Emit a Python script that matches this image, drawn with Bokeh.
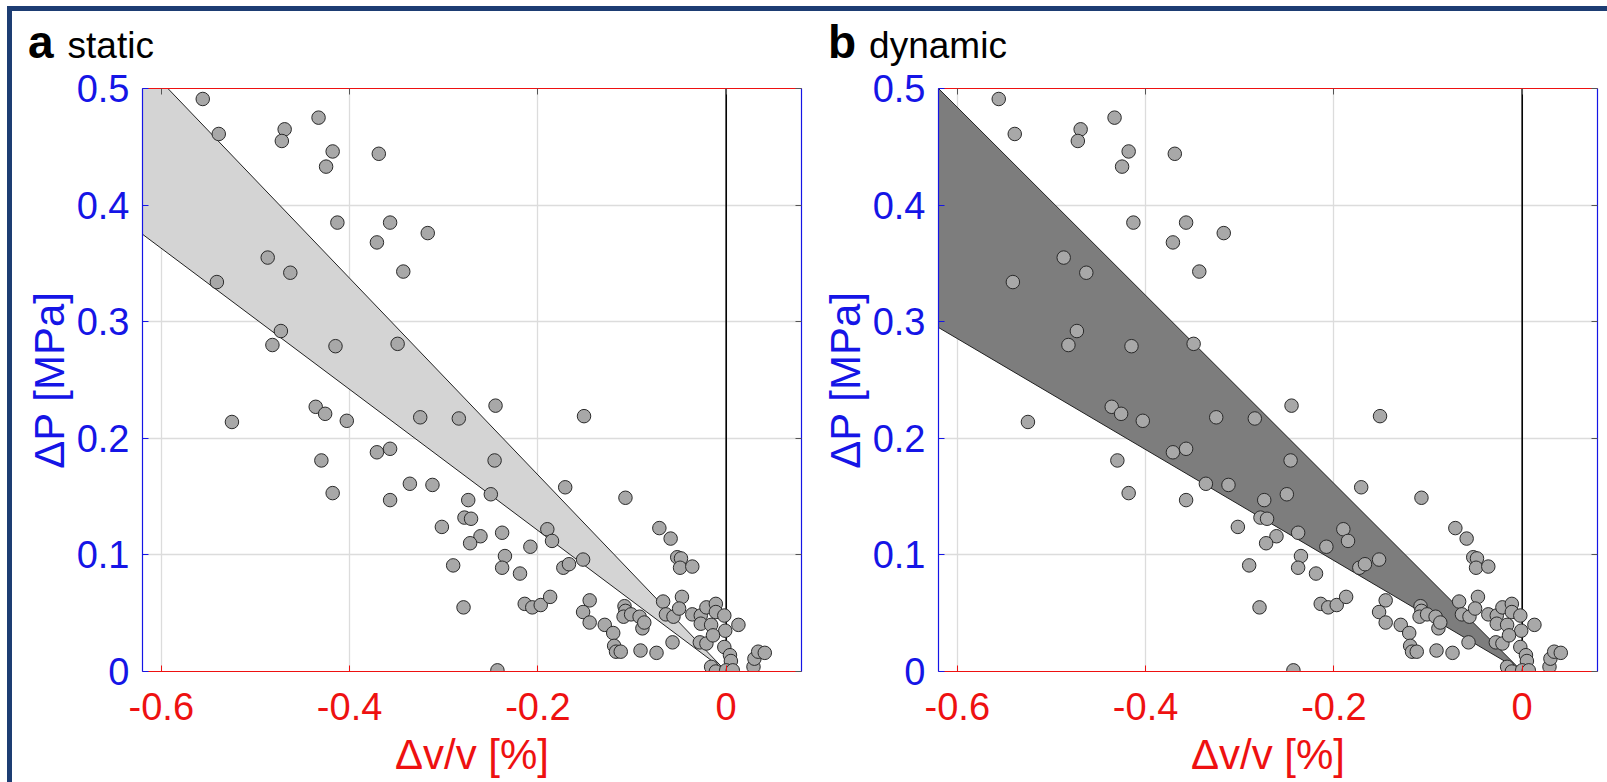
from bokeh.plotting import figure
from bokeh.layouts import row, column
from bokeh.models import FixedTicker, LinearAxis, Range1d, Span, Div, Spacer
from bokeh.embed import file_html
from bokeh.resources import INLINE

# ---- data ----
dv = [-0.556, -0.539, -0.469, -0.472, -0.433, -0.418, -0.425, -0.369, -0.413, -0.357,
      -0.317, -0.371, -0.487, -0.463, -0.343, -0.541, -0.473, -0.482, -0.415, -0.349,
      -0.525, -0.436, -0.426, -0.403, -0.325, -0.371, -0.357, -0.430, -0.418, -0.357,
      -0.336, -0.312, -0.302, -0.290, -0.245, -0.284, -0.151, -0.246, -0.250, -0.171,
      -0.107, -0.274, -0.278, -0.271, -0.261, -0.272, -0.238, -0.208, -0.235, -0.238,
      -0.219, -0.190, -0.185, -0.173, -0.167, -0.152, -0.071, -0.059, -0.052, -0.048,
      -0.049, -0.036, -0.279, -0.214, -0.206, -0.197, -0.187, -0.145, -0.152, -0.145,
      -0.129, -0.120, -0.119, -0.117, -0.112, -0.108, -0.107, -0.109, -0.101, -0.092,
      -0.089, -0.091, -0.074, -0.087, -0.067, -0.064, -0.056, -0.057, -0.047, -0.050,
      -0.036, -0.027, -0.021, -0.011, -0.011, -0.027, -0.016, -0.002, -0.001, 0.013,
      -0.028, -0.021, -0.014, -0.002, 0.004, 0.005, -0.016, -0.011, 0.000, 0.007,
      -0.243, 0.029, 0.030, 0.034, 0.041]
dp = [0.491, 0.461, 0.465, 0.455, 0.475, 0.446, 0.433, 0.444, 0.385, 0.385,
      0.376, 0.368, 0.355, 0.342, 0.343, 0.334, 0.292, 0.280, 0.279, 0.281,
      0.214, 0.227, 0.221, 0.215, 0.218, 0.188, 0.191, 0.181, 0.153, 0.147,
      0.161, 0.160, 0.124, 0.091, 0.228, 0.217, 0.219, 0.181, 0.152, 0.158,
      0.149, 0.147, 0.132, 0.131, 0.116, 0.110, 0.119, 0.107, 0.099, 0.089,
      0.084, 0.122, 0.112, 0.089, 0.092, 0.096, 0.123, 0.114, 0.098, 0.097,
      0.089, 0.090, 0.055, 0.058, 0.055, 0.057, 0.064, 0.061, 0.051, 0.042,
      0.040, 0.033, 0.022, 0.017, 0.017, 0.056, 0.052, 0.047, 0.049, 0.047,
      0.037, 0.018, 0.016, 0.042, 0.060, 0.049, 0.047, 0.025, 0.064, 0.054,
      0.049, 0.048, 0.055, 0.058, 0.051, 0.041, 0.040, 0.048, 0.035, 0.040,
      0.025, 0.024, 0.031, 0.021, 0.014, 0.009, 0.004, 0.000, 0.001, 0.001,
      0.001, 0.004, 0.011, 0.017, 0.016]

x_ticks = [-0.6, -0.4, -0.2, 0.0]
x_tick_labels = ["-0.6", "-0.4", "-0.2", "0"]
y_ticks = [0.0, 0.1, 0.2, 0.3, 0.4, 0.5]
y_tick_labels = ["0", "0.1", "0.2", "0.3", "0.4", "0.5"]

band_a_x = [-0.62, -0.593, 0.0, -0.62]
band_a_y = [0.5, 0.5, 0.0, 0.375]
band_b_x = [-0.62, 0.0, -0.62]
band_b_y = [0.5, 0.0, 0.295]

panel_letters = ["a", "b"]
panel_words = ["static", "dynamic"]

FONT = "Liberation Sans"
RED = "#ee1111"
BLUE = "#1515e6"
BORDER = "#1d3d73"
NOM = (0, 0, 0, 0)


def make_panel(bx, by, band_color, width, mb_left, mb_right):
    p = figure(width=width, height=716,
               x_range=Range1d(-0.62, 0.08), y_range=Range1d(0, 0.5),
               output_backend="svg", toolbar_location=None,
               min_border_left=mb_left, min_border_right=mb_right,
               min_border_top=22, min_border_bottom=111, margin=NOM)
    p.outline_line_color = None
    p.background_fill_color = "white"
    p.border_fill_color = "white"

    xa = p.xaxis[0]
    xa.ticker = FixedTicker(ticks=x_ticks)
    xa.major_label_overrides = dict(zip(x_ticks, x_tick_labels))
    xa.axis_line_color = RED
    xa.axis_line_width = 1.2
    xa.major_tick_line_color = RED
    xa.major_tick_in = 6
    xa.major_tick_out = 0
    xa.minor_tick_line_color = None
    xa.major_label_text_color = RED
    xa.major_label_text_font = FONT
    xa.major_label_text_font_size = "38px"
    xa.major_label_standoff = 21
    xa.axis_label = "Δv/v [%]"
    xa.axis_label_text_color = RED
    xa.axis_label_text_font = FONT
    xa.axis_label_text_font_style = "normal"
    xa.axis_label_text_font_size = "42px"
    xa.axis_label_standoff = 8

    ya = p.yaxis[0]
    ya.ticker = FixedTicker(ticks=y_ticks)
    ya.major_label_overrides = dict(zip(y_ticks, y_tick_labels))
    ya.axis_line_color = BLUE
    ya.axis_line_width = 1.2
    ya.major_tick_line_color = BLUE
    ya.major_tick_in = 6
    ya.major_tick_out = 0
    ya.minor_tick_line_color = None
    ya.major_label_text_color = BLUE
    ya.major_label_text_font = FONT
    ya.major_label_text_font_size = "38px"
    ya.major_label_standoff = 13
    ya.axis_label = "ΔP [MPa]"
    ya.axis_label_text_color = BLUE
    ya.axis_label_text_font = FONT
    ya.axis_label_text_font_style = "normal"
    ya.axis_label_text_font_size = "42px"
    ya.axis_label_standoff = 1

    top = LinearAxis(ticker=FixedTicker(ticks=x_ticks), axis_line_color=RED,
                     axis_line_width=1.2, major_tick_line_color="#555555",
                     major_tick_in=6, major_tick_out=0, minor_tick_line_color=None,
                     major_label_text_font_size="0px", major_label_standoff=0,
                     major_label_text_color=None)
    p.add_layout(top, "above")
    right = LinearAxis(ticker=FixedTicker(ticks=y_ticks), axis_line_color=BLUE,
                       axis_line_width=1.2, major_tick_line_color="#555555",
                       major_tick_in=6, major_tick_out=0, minor_tick_line_color=None,
                       major_label_text_font_size="0px", major_label_standoff=0,
                       major_label_text_color=None)
    p.add_layout(right, "right")

    p.xgrid.ticker = FixedTicker(ticks=x_ticks)
    p.ygrid.ticker = FixedTicker(ticks=y_ticks)
    p.grid.grid_line_color = "#dcdcdc"
    p.grid.grid_line_width = 1.3

    p.patch(bx, by, fill_color=band_color, line_color="#222222", line_width=1)
    p.add_layout(Span(location=0, dimension="height", line_color="black",
                      line_width=1.6, level="underlay"))
    p.scatter(dv, dp, size=13.5, fill_color="#a8a8a8", line_color="#2a2a2a",
              line_width=1)
    return p


def title_div(letter, word, width, pad_left, gap):
    html = ('<div style="font-family:\'Liberation Sans\',Arial,sans-serif;font-size:46px;'
            'line-height:46px;padding-top:8px;padding-left:%dpx;white-space:nowrap;'
            'color:black;margin:0">'
            '<span style="font-weight:bold;font-size:46px">%s</span>'
            '<span style="font-weight:normal;font-size:37px;margin-left:%dpx">%s</span>'
            '</div>') % (pad_left, letter, gap, word)
    return Div(text=html, width=width, height=55, margin=NOM,
               styles={"margin": "0", "padding": "0"})


p1 = make_panel(band_a_x, band_a_y, "#d4d4d4", 794, 130, 5)
p2 = make_panel(band_b_x, band_b_y, "#7d7d7d", 801, 132, 10)

titles = row(title_div(panel_letters[0], panel_words[0], 794, 16, 14),
             title_div(panel_letters[1], panel_words[1], 801, 22, 13),
             margin=NOM)

main = column(Spacer(width=1595, height=6, margin=NOM),
              Div(text="", width=1595, height=5, margin=NOM,
                  styles={"background-color": BORDER}),
              titles,
              row(p1, p2, margin=NOM),
              margin=NOM)
left_bar = column(Spacer(width=5, height=6, margin=NOM),
                  Div(text="", width=5, height=776, margin=NOM,
                      styles={"background-color": BORDER}),
                  margin=NOM)
layout = row(Spacer(width=7, height=782, margin=NOM), left_bar, main, margin=NOM)

open("out.html", "w").write(file_html(layout, INLINE))
